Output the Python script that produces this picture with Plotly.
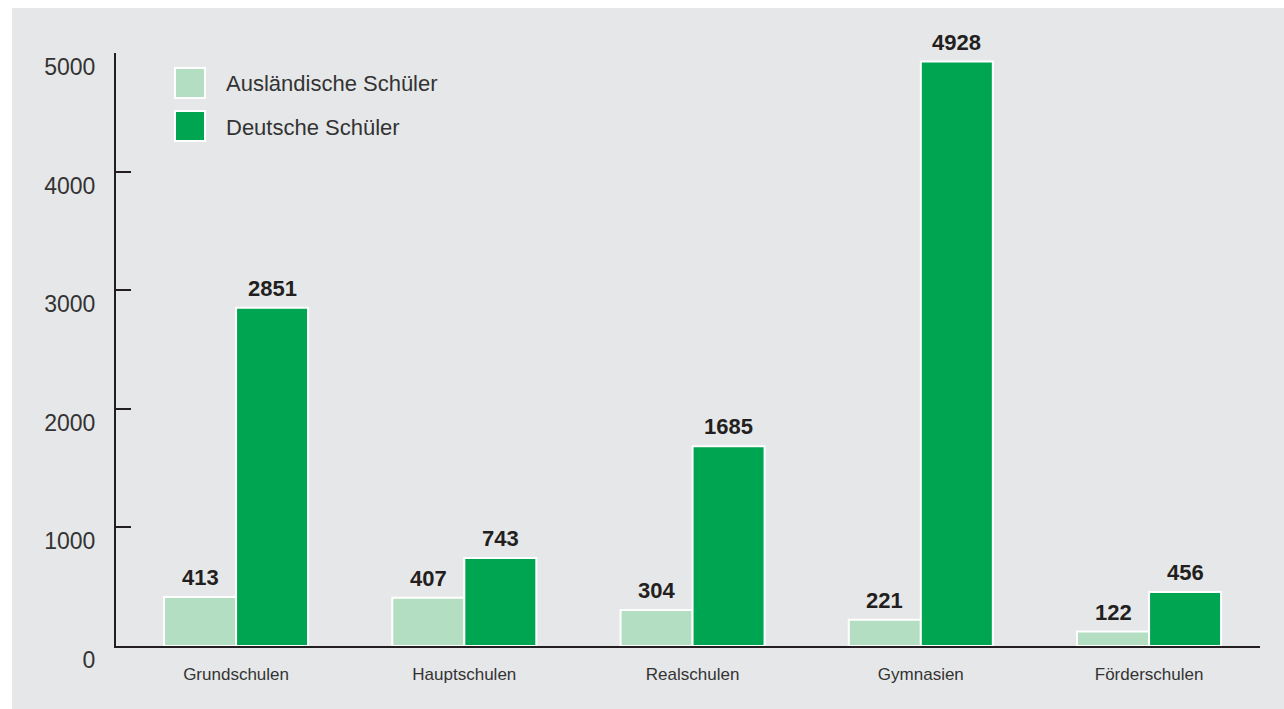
import plotly.graph_objects as go

categories = ["Grundschulen", "Hauptschulen", "Realschulen", "Gymnasien", "Förderschulen"]
auslaendisch = [413, 407, 304, 221, 122]
deutsch = [2851, 743, 1685, 4928, 456]
series_names = ["Ausländische Schüler", "Deutsche Schüler"]
y_ticks = [0, 1000, 2000, 3000, 4000, 5000]

LIGHT = "#b3dec2"
DARK = "#00a551"
BG = "#e6e7e8"
INK = "#231f20"

# plot area geometry in pixels (for paper-coordinate decorations)
W, H = 1284, 709
ML, MR, MT, MB = 116, 24, 53, 63
PW, PH = W - ML - MR, H - MT - MB

def px(x):
    return (x - ML) / PW

def py(y):
    return (H - MB - y) / PH

fig = go.Figure()
for name, vals, col in [(series_names[0], auslaendisch, LIGHT), (series_names[1], deutsch, DARK)]:
    fig.add_trace(go.Bar(
        x=categories, y=vals, name=name, showlegend=False,
        marker=dict(color=col, line=dict(color="white", width=2)),
    ))

annotations = []
for vals, shift in [(auslaendisch, -36), (deutsch, 36)]:
    for c, v in zip(categories, vals):
        annotations.append(dict(
            x=c, y=v, xref="x", yref="y", text=str(v), showarrow=False,
            xshift=shift, yshift=5, yanchor="bottom",
            font=dict(family="Liberation Sans", size=22, color=INK, weight="bold"),
        ))

# manual legend
shapes = [dict(type="rect", xref="paper", yref="paper", layer="below",
               x0=px(12), x1=px(W), y0=py(H), y1=py(8),
               fillcolor=BG, line=dict(width=0))]
for i, (name, col) in enumerate(zip(series_names, [LIGHT, DARK])):
    top = 68 + i * 43
    shapes.append(dict(type="rect", xref="paper", yref="paper",
                       x0=px(175), x1=px(205), y0=py(top + 30), y1=py(top),
                       fillcolor=col, line=dict(color="white", width=2)))
    annotations.append(dict(
        x=px(224), y=py(top + 16), xref="paper", yref="paper", text=name,
        showarrow=False, xanchor="left", yanchor="middle",
        font=dict(family="Liberation Sans", size=22, color="#333333"),
    ))

fig.update_layout(
    width=W, height=H,
    margin=dict(l=ML, r=MR, t=MT, b=MB),
    paper_bgcolor="white", plot_bgcolor="rgba(0,0,0,0)",
    barmode="group", bargap=0.369, bargroupgap=0,
    annotations=annotations, shapes=shapes,
    xaxis=dict(
        range=[-0.526, 4.486], showline=True, linewidth=2, linecolor=INK,
        ticks="", showgrid=False, zeroline=False, ticklabelstandoff=12,
        tickfont=dict(family="Liberation Sans", size=17, color="#333333"),
    ),
    yaxis=dict(
        range=[0, 5000], tickvals=y_ticks, ticktext=[str(t) for t in y_ticks],
        showline=True, linewidth=2, linecolor=INK,
        ticks="inside", ticklen=15, tickwidth=2, tickcolor=INK,
        showgrid=False, zeroline=False,
        ticklabelshift=14, ticklabelstandoff=14,
        tickfont=dict(family="Liberation Sans", size=23, color="#333333"),
    ),
)

fig.write_html("out.html")
